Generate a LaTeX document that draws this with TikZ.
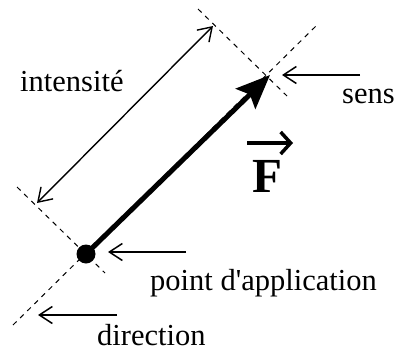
\documentclass[tikz,border=0pt]{standalone}
\usepackage{fontspec}
\setmainfont{Liberation Serif}
\usetikzlibrary{arrows.meta}
\begin{document}
\begin{tikzpicture}[x=1pt,y=-1pt,
  guide/.style={line width=1pt,dash pattern=on 5pt off 5pt},
  pointer/.style={line width=1.5pt,-{Straight Barb[length=13pt,width=17pt]}},
  measure/.style={line width=1.4pt,{Straight Barb[length=13pt,width=17pt]}-{Straight Barb[length=13pt,width=17pt]}},
  force/.style={line width=5pt,-{Stealth[length=34pt,width=28pt,inset=6pt]}},
  lbl/.style={font=\fontsize{30.5}{36}\selectfont,inner sep=0pt,anchor=base west}]
\useasboundingbox (0,0) rectangle (396,351);
% geometry
\coordinate (A) at (86,254);
\coordinate (B) at (270,75);
\coordinate (D1) at (13,325);
\coordinate (D2) at (317,25);
\coordinate (P1) at (17,187);
\coordinate (P2) at (105,273);
\coordinate (Q1) at (198,9);
\coordinate (Q2) at (287,96);
\coordinate (I1) at (37,203);
\coordinate (I2) at (213,26);
% dashed guides
\draw[guide] (D1) -- (D2);
\draw[guide] (P1) -- (P2);
\draw[guide] (Q1) -- (Q2);
% intensity
\draw[measure] (I1) -- (I2);
% force
\draw[force] (A) -- (B);
\node[circle,fill,inner sep=0pt,minimum size=19pt] (dot) at (A) {};
% labels
\node[lbl] (int) at (20,91) {intensité};
\node[lbl] (sens) at (342,103) {sens};
\node[lbl] (pa) at (150,290) {point d\textquotesingle application};
\node[lbl] (dir) at (97,345) {direction};
\node[font=\fontsize{49}{56}\selectfont\bfseries,inner sep=0pt,anchor=base west] (F) at (252,192) {F};
\coordinate (Fa) at (247,143);
\coordinate (Fb) at (293,143);
\draw[line width=3.5pt,-{Straight Barb[length=10pt,width=22pt]}] (Fa) -- (Fb);
% pointers
\coordinate (s1) at (360,75);
\coordinate (s2) at (282,75);
\coordinate (p1) at (186,252);
\coordinate (p2) at (108,252);
\coordinate (d1) at (117,315);
\coordinate (d2) at (38,315);
\draw[pointer] (s1) -- (s2);
\draw[pointer] (p1) -- (p2);
\draw[pointer] (d1) -- (d2);
\end{tikzpicture}
\end{document}
